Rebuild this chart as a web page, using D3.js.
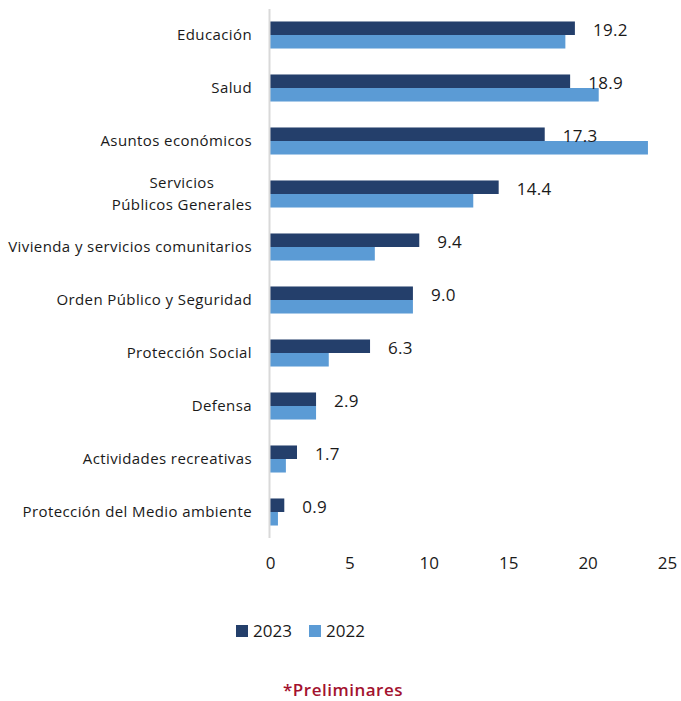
<!DOCTYPE html>
<html>
<head>
<meta charset="utf-8">
<script src="https://cdn.jsdelivr.net/npm/d3@7"></script>
<style>
  html, body { margin: 0; padding: 0; background: #fff; }
  svg { display: block; }
</style>
</head>
<body>
<div id="chart"></div>
<script>
// Categories (line breaks marked with "\n")
const categories = [
  "Educación",
  "Salud",
  "Asuntos económicos",
  "Servicios\nPúblicos Generales",
  "Vivienda y servicios comunitarios",
  "Orden Público y Seguridad",
  "Protección Social",
  "Defensa",
  "Actividades recreativas",
  "Protección del Medio ambiente"
];
const seriesNames = ["2023", "2022"];
const values2023 = [19.2, 18.9, 17.3, 14.4, 9.4, 9.0, 6.3, 2.9, 1.7, 0.9];
const values2022 = [18.6, 20.7, 23.8, 12.8, 6.6, 9.0, 3.7, 2.9, 1.0, 0.5];
const xTicks = [0, 5, 10, 15, 20, 25];
const footnote = "*Preliminares";

const colors = { "2023": "#243f6b", "2022": "#5b9bd5" };

const W = 681, H = 701;
const svg = d3.select("#chart").append("svg")
  .attr("width", W).attr("height", H);

const x = d3.scaleLinear().domain([0, 25]).range([270, 667]);
const y = d3.scaleBand().domain(categories).range([8.5, 538.5])
  .paddingInner(0.49).paddingOuter(0.245);
const ySub = d3.scaleBand().domain(seriesNames).range([0, y.bandwidth()]);

const rows = categories.map((c, i) => ({ cat: c, "2023": values2023[i], "2022": values2022[i] }));

// Bars
const g = svg.append("g");
const groups = g.selectAll("g.cat").data(rows).join("g")
  .attr("class", "cat")
  .attr("transform", d => `translate(0,${y(d.cat)})`);
groups.selectAll("rect").data(d => seriesNames.map(s => ({ s, v: d[s] }))).join("rect")
  .attr("x", x(0))
  .attr("y", d => ySub(d.s))
  .attr("width", d => x(d.v) - x(0))
  .attr("height", ySub.bandwidth())
  .attr("fill", d => colors[d.s]);

// Value labels for 2023
groups.append("text")
  .attr("x", d => x(d["2023"]) + 18)
  .attr("y", ySub("2023") + ySub.bandwidth() / 2 + 2)
  .attr("dy", "0.35em")
  .attr("font-family", "Open Sans, sans-serif")
  .attr("font-size", 17)
  .attr("letter-spacing", 0.3)
  .attr("fill", "#1a1a1a")
  .text(d => d["2023"].toFixed(1));

// Vertical axis line
svg.append("line")
  .attr("x1", 269.5).attr("x2", 269.5)
  .attr("y1", 9).attr("y2", 538)
  .attr("stroke", "#d9d9d9").attr("stroke-width", 2);

// Category labels
const labelRight = 252;
categories.forEach(c => {
  const lines = c.split("\n");
  const cy = y(c) + y.bandwidth() / 2;
  const t = svg.append("text")
    .attr("font-family", "Open Sans, sans-serif")
    .attr("font-size", 15)
    .attr("letter-spacing", 0.4)
    .attr("fill", "#1a1a1a");
  lines.forEach((ln, i) => {
    t.append("tspan")
      .attr("y", cy + (i - (lines.length - 1) / 2) * 22)
      .attr("dy", "0.35em")
      .text(ln);
  });
  if (lines.length === 1) {
    t.attr("text-anchor", "end").selectAll("tspan").attr("x", labelRight);
  } else {
    // multi-line labels: lines centred within a right-aligned block
    let maxW = 0;
    t.selectAll("tspan").each(function () { maxW = Math.max(maxW, this.getComputedTextLength()); });
    t.attr("text-anchor", "middle").selectAll("tspan").attr("x", labelRight - maxW / 2);
  }
});

// X axis tick labels
const xAxis = d3.axisBottom(x).tickValues(xTicks).tickSize(0).tickPadding(0).tickFormat(d3.format("d"));
const ax = svg.append("g").attr("transform", "translate(0,557)").call(xAxis);
ax.select(".domain").remove();
ax.selectAll("text")
  .attr("font-family", "Open Sans, sans-serif")
  .attr("font-size", 17)
  .attr("fill", "#1a1a1a");

// Legend
const legend = svg.append("g");
const legendItems = [{ s: "2023", x: 236 }, { s: "2022", x: 309 }];
legendItems.forEach(it => {
  legend.append("rect")
    .attr("x", it.x).attr("y", 625)
    .attr("width", 12).attr("height", 12)
    .attr("fill", colors[it.s]);
  legend.append("text")
    .attr("x", it.x + 17).attr("y", 631)
    .attr("dy", "0.35em")
    .attr("font-family", "Open Sans, sans-serif")
    .attr("font-size", 17)
    .attr("fill", "#1a1a1a")
    .text(it.s);
});

// Footnote
svg.append("text")
  .attr("x", 343).attr("y", 690)
  .attr("dy", "0.35em")
  .attr("text-anchor", "middle")
  .attr("font-family", "Open Sans, sans-serif")
  .attr("font-weight", 600)
  .attr("font-size", 17)
  .attr("letter-spacing", 0.5)
  .attr("fill", "#a3122e")
  .text(footnote);
</script>
</body>
</html>
